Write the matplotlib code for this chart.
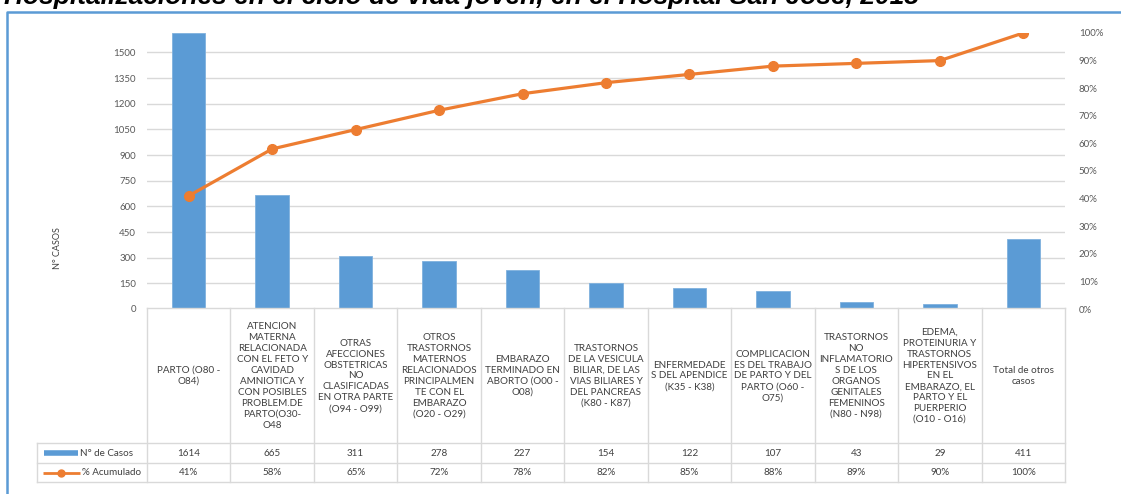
import numpy as np
import matplotlib
matplotlib.use('Agg')
import matplotlib.pyplot as plt
from matplotlib.lines import Line2D
from matplotlib.transforms import blended_transform_factory

titulo = 'Hospitalizaciones en el ciclo de vida joven, en el Hospital San José, 2018'

categorias = [
    'PARTO (O80 -\nO84)',
    'ATENCION\nMATERNA\nRELACIONADA\nCON EL FETO Y\nCAVIDAD\nAMNIOTICA Y\nCON POSIBLES\nPROBLEM.DE\nPARTO(O30-\nO48',
    'OTRAS\nAFECCIONES\nOBSTETRICAS\nNO\nCLASIFICADAS\nEN OTRA PARTE\n(O94 - O99)',
    'OTROS\nTRASTORNOS\nMATERNOS\nRELACIONADOS\nPRINCIPALMEN\nTE CON EL\nEMBARAZO\n(O20 - O29)',
    'EMBARAZO\nTERMINADO EN\nABORTO (O00 -\nO08)',
    'TRASTORNOS\nDE LA VESICULA\nBILIAR, DE LAS\nVIAS BILIARES Y\nDEL PANCREAS\n(K80 - K87)',
    'ENFERMEDADE\nS DEL APENDICE\n(K35 - K38)',
    'COMPLICACION\nES DEL TRABAJO\nDE PARTO Y DEL\nPARTO (O60 -\nO75)',
    'TRASTORNOS\nNO\nINFLAMATORIO\nS DE LOS\nORGANOS\nGENITALES\nFEMENINOS\n(N80 - N98)',
    'EDEMA,\nPROTEINURIA Y\nTRASTORNOS\nHIPERTENSIVOS\nEN EL\nEMBARAZO, EL\nPARTO Y EL\nPUERPERIO\n(O10 - O16)',
    'Total de otros\ncasos',
]
casos = [1614, 665, 311, 278, 227, 154, 122, 107, 43, 29, 411]
acumulado = [0.41, 0.58, 0.65, 0.72, 0.78, 0.82, 0.85, 0.88, 0.89, 0.90, 1.00]
fila_casos = 'N° de Casos'
fila_acum = '% Acumulado'

azul = '#5b9bd5'
naranja = '#ed7d31'
gris = '#d9d9d9'
texto = '#404040'
plt.rcParams['font.family'] = ['Lato', 'DejaVu Sans']

W, H = 1121, 494
fig = plt.figure(figsize=(W/100, H/100), dpi=100)
fx = lambda p: p/W
fy = lambda p: 1 - p/H

# plot area in pixels
L, R, T, B = 147, 1065, 33, 309
ax = fig.add_axes([fx(L), fy(B), fx(R-L), (B-T)/H])
x = np.arange(len(casos))
ax.bar(x, casos, width=0.4, color=azul, edgecolor='#7fb1de', linewidth=0.6, zorder=3)
ax.set_xlim(-0.5, len(casos)-0.5)
ax.set_ylim(0, max(casos))
ax.set_yticks(np.arange(0, 1501, 150))
ax.grid(axis='y', color=gris, linewidth=1, zorder=0)
ax.set_xticks([])
for s in ax.spines.values():
    s.set_visible(False)
ax.tick_params(axis='y', length=0, pad=8, labelsize=7, labelcolor='#595959')
ax.set_ylabel('N° CASOS', fontsize=6.5, color=texto, labelpad=0)
ax.yaxis.set_label_coords(fx(62-L)/fx(R-L), 0.22)

ax2 = ax.twinx()
ax2.plot(x, acumulado, color=naranja, linewidth=2.3, marker='o', markersize=7, zorder=4)
ax2.set_ylim(0, 1)
ax2.set_yticks(np.arange(0, 1.01, 0.1))
ax2.set_yticklabels(['%d%%' % round(v*100) for v in np.arange(0, 1.01, 0.1)])
for s in ax2.spines.values():
    s.set_visible(False)
ax2.tick_params(axis='y', length=0, pad=10, labelsize=7, labelcolor='#595959')

# data table under the chart
tr = blended_transform_factory(ax.transData, fig.transFigure)
tf = fig.transFigure
y_top, y_r1, y_r2, y_bot = 308, 443, 463, 482
def hline(x0, x1, yp):
    fig.add_artist(Line2D([fx(x0), fx(x1)], [fy(yp), fy(yp)], transform=tf, color=gris, lw=1))
def vline(xp, y0, y1):
    fig.add_artist(Line2D([fx(xp), fx(xp)], [fy(y0), fy(y1)], transform=tf, color=gris, lw=1))

hline(L, R, y_top)
for yp in (y_r1, y_r2, y_bot):
    hline(37, R, yp)
vline(37, y_r1, y_bot)
for i in range(len(casos)+1):
    xp = L + (R-L)*i/len(casos)
    vline(xp, y_top, y_bot)

for i, lab in enumerate(categorias):
    fig.text(i, fy(376), lab, transform=tr, ha='center', va='center',
             fontsize=7.1, color=texto, linespacing=1.27)
    fig.text(i, fy(453), str(casos[i]), transform=tr, ha='center', va='center',
             fontsize=7.1, color=texto)
    fig.text(i, fy(472.5), '%d%%' % round(acumulado[i]*100), transform=tr, ha='center', va='center',
             fontsize=7.1, color=texto)

# legend keys in the row headers
fig.add_artist(Line2D([fx(44), fx(78)], [fy(453), fy(453)], transform=tf, color=azul, lw=4,
                      solid_capstyle='butt'))
fig.add_artist(Line2D([fx(43), fx(80)], [fy(472.5), fy(472.5)], transform=tf, color=naranja, lw=2,
                      solid_capstyle='butt'))
fig.add_artist(Line2D([fx(61)], [fy(472.5)], transform=tf, color=naranja, marker='o', markersize=5))
fig.text(fx(80), fy(453), fila_casos, ha='left', va='center', fontsize=7.1, color=texto)
fig.text(fx(82), fy(472.5), fila_acum, ha='left', va='center', fontsize=7.1, color=texto)

# outer frame of the chart area
fig.add_artist(Line2D([fx(7), fx(7), fx(W)], [fy(H), fy(12), fy(12)], transform=tf,
                      color=azul, lw=1.8))

# title, partly cut off at the top of the image
fig.text(fx(4), fy(4), titulo, ha='left', va='baseline', fontsize=19,
         fontweight='bold', fontstyle='italic', family=['Liberation Sans', 'DejaVu Sans'])

fig.savefig('out.png', dpi=100)
